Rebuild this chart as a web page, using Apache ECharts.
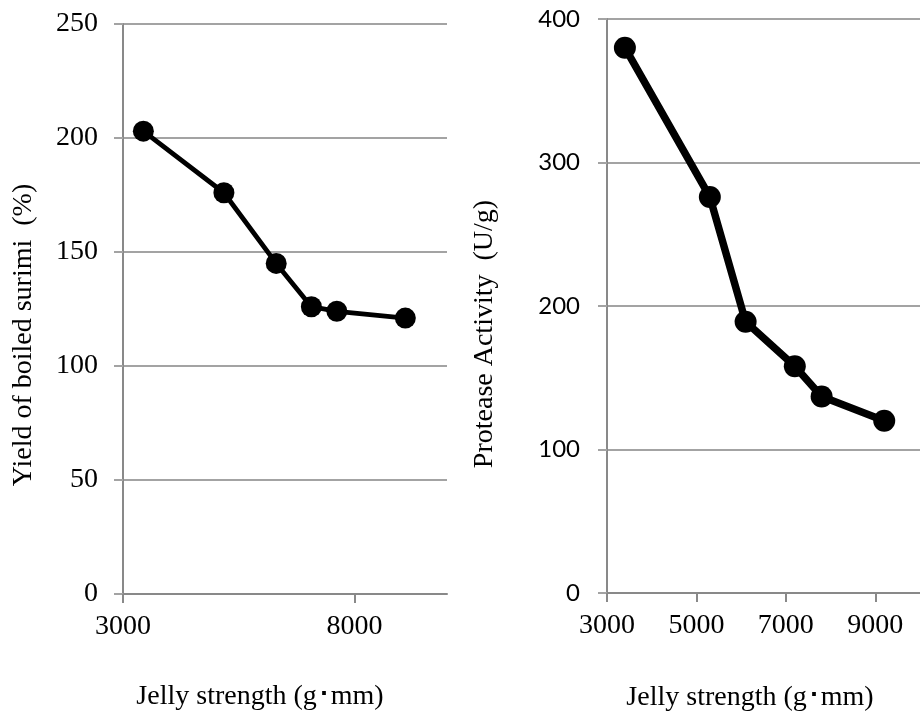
<!DOCTYPE html>
<html>
<head>
<meta charset="utf-8">
<script src="https://cdn.jsdelivr.net/npm/echarts@6/dist/echarts.min.js"></script>
<style>html,body{margin:0;padding:0;background:#fff;}#c{width:920px;height:714px;}</style>
</head>
<body>
<div id="c"></div>
<script>
// ---- data ----
const leftJelly = [3440, 5180, 6310, 7070, 7620, 9100];
const yieldValues = [203, 176, 145, 126, 124, 121];
const rightJelly = [3400, 5300, 6100, 7200, 7800, 9200];
const proteaseValues = [380, 276, 189, 158, 137, 120];
const leftXTicks = [3000, 8000];
const rightXTicks = [3000, 5000, 7000, 9000];
const leftYTitle = 'Yield of boiled surimi  (%)';
const rightYTitle = 'Protease Activity  (U/g)';
const xTitle = 'Jelly strength (g\uFF65mm)';

const SERIF = '"Liberation Serif", "Times New Roman", serif';
const SANS = 'Lato, "Open Sans", sans-serif';
const AXIS_C = '#898989';
const GRID_C = '#a3a3a3';

const chart = echarts.init(document.getElementById('c'));

function xAxisCfg(idx, ticks) {
  return {
    type: 'value', gridIndex: idx, min: 3000, max: 10000,
    splitLine: { show: false },
    axisLine: { show: true, onZero: false, lineStyle: { color: AXIS_C, width: 2 } },
    axisTick: { show: true, length: 9, customValues: ticks, lineStyle: { color: AXIS_C, width: 2 } },
    axisLabel: { customValues: ticks, formatter: v => String(v), color: '#000', fontFamily: SERIF, fontSize: 28, margin: 19 }
  };
}

chart.setOption({
  animation: false,
  backgroundColor: '#fff',
  grid: [
    { left: 123, top: 24, right: 473, bottom: 120 },
    { left: 607, top: 19, right: -7, bottom: 121 }
  ],
  xAxis: [xAxisCfg(0, leftXTicks), xAxisCfg(1, rightXTicks)],
  yAxis: [
    {
      type: 'value', gridIndex: 0, min: 0, max: 250, interval: 50,
      axisLine: { show: true, lineStyle: { color: AXIS_C, width: 2 } },
      axisTick: { show: true, length: 9, lineStyle: { color: GRID_C, width: 2 } },
      splitLine: { show: true, lineStyle: { color: GRID_C, width: 2 } },
      axisLabel: { color: '#000', fontFamily: SERIF, fontSize: 28, margin: 25 }
    },
    {
      type: 'value', gridIndex: 1, min: 0, max: 400, interval: 100,
      axisLine: { show: true, lineStyle: { color: AXIS_C, width: 2 } },
      axisTick: { show: true, length: 9, lineStyle: { color: GRID_C, width: 2 } },
      splitLine: { show: true, lineStyle: { color: GRID_C, width: 2 } },
      axisLabel: { color: '#000', fontFamily: SANS, fontSize: 24, margin: 27 }
    }
  ],
  series: [
    {
      type: 'line', xAxisIndex: 0, yAxisIndex: 0,
      data: leftJelly.map((x, i) => [x, yieldValues[i]]),
      symbol: 'circle', symbolSize: 21,
      lineStyle: { color: '#000', width: 4.8 },
      itemStyle: { color: '#000' }
    },
    {
      type: 'line', xAxisIndex: 1, yAxisIndex: 1,
      data: rightJelly.map((x, i) => [x, proteaseValues[i]]),
      symbol: 'circle', symbolSize: 22,
      lineStyle: { color: '#000', width: 7.5 },
      itemStyle: { color: '#000' }
    }
  ],
  graphic: [
    { type: 'text', x: 260, y: 697, style: { text: xTitle, align: 'center', verticalAlign: 'middle', font: '28px ' + SERIF, fill: '#000' } },
    { type: 'text', x: 750, y: 698, style: { text: xTitle, align: 'center', verticalAlign: 'middle', font: '28px ' + SERIF, fill: '#000' } },
    { type: 'text', x: 24, y: 335, rotation: Math.PI / 2, style: { text: leftYTitle, align: 'center', verticalAlign: 'middle', font: '28px ' + SERIF, fill: '#000' } },
    { type: 'text', x: 485, y: 334, rotation: Math.PI / 2, style: { text: rightYTitle, align: 'center', verticalAlign: 'middle', font: '28px ' + SERIF, fill: '#000' } }
  ]
});
</script>
</body>
</html>
